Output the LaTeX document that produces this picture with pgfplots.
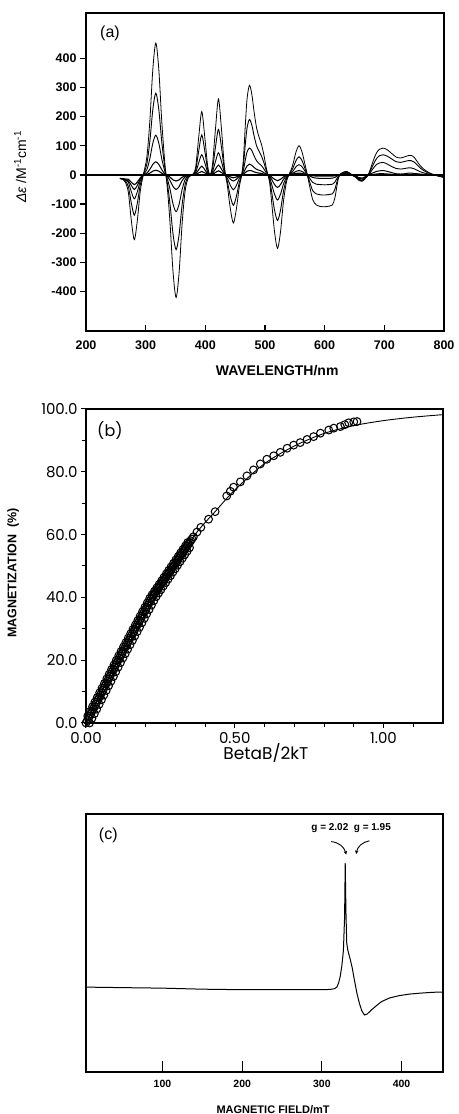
\documentclass[border=0pt]{standalone}
\usepackage{fontspec}
\setmainfont{Liberation Sans}
\newfontfamily\pop{Poppins}
\usepackage{pgfplots}
\usepackage{pgfplotstable}
\pgfplotsset{compat=1.18}
\usetikzlibrary{arrows.meta}

\pgfplotstableread{
lam A B C D E
257 -12 -12 -12 -12 -12
262 -16 -15 -15 -14 -13
266 -25 -20 -17 -16 -14
271 -60 -40 -25 -20 -15
276 -157 -97 -58 -36 -25
281 -222 -138 -82 -50 -33
286 -157 -97 -58 -36 -25
291 -55 -34 -20 -14 -10
296 0 0 0 0 0
302 61 38 18 6 2
307 185 115 56 19 6
312 362 224 109 36 13
317 452 280 136 45 16
322 362 224 109 36 13
327 183 113 55 18 6
332 44 27 13 4 1
337 -61 -38 -18 -7 -3
341 -170 -104 -51 -20 -8
346 -336 -205 -101 -40 -17
351 -420 -256 -126 -50 -21
356 -336 -205 -101 -40 -17
361 -170 -104 -51 -20 -8
366 -57 -35 -17 -7 -3
371 -12 -7 -4 -1 0
376 -2 -1 -1 0 0
380 4 2 1 0 0
384 29 18 9 4 2
389 131 83 42 18 7
394 217 137 69 30 12
399 131 83 42 18 7
404 29 18 9 4 2
408 0 0 0 0 0
412 35 21 10 5 2
417 158 95 46 20 8
422 260 156 76 34 14
427 158 95 46 20 8
432 28 17 8 4 2
437 -38 -24 -12 -5 -2
442 -117 -74 -36 -15 -7
447 -165 -104 -51 -21 -10
452 -117 -74 -36 -15 -7
457 -40 -25 -12 -5 -2
461 0 0 0 0 0
464 60 37 18 7 3
467 170 105 51 20 8
470 262 162 79 31 13
474 307 190 92 37 15
478 275 170 83 33 14
482 212 131 64 25 10
486 160 99 48 19 8
490 130 81 39 16 6
494 105 65 32 13 5
498 70 43 21 8 3
502 25 16 8 3 1
505 0 0 0 0 0
508 -30 -19 -10 -5 -2
511 -90 -56 -31 -15 -7
516 -195 -121 -66 -33 -15
521 -252 -156 -86 -43 -20
526 -195 -121 -66 -33 -15
531 -90 -56 -31 -15 -7
536 -24 -15 -8 -4 -2
540 0 0 0 0 0
543 14 9 5 2 1
547 38 24 13 6 3
552 79 49 28 12 5
557 100 62 35 15 6
562 79 49 28 12 5
567 36 22 13 5 2
571 0 0 0 0 0
575 -40 -25 -12 -4 -1
580 -85 -54 -26 -9 -3
586 -103 -65 -32 -11 -4
592 -108 -68 -33 -12 -4
600 -109 -69 -34 -12 -4
608 -107 -67 -33 -12 -4
613 -103 -65 -32 -11 -4
617 -80 -50 -25 -9 -3
620 -45 -28 -14 -5 -2
623 -12 -8 -4 -1 0
626 2 2 1 1 1
632 10 9 8 6 5
637 12 11 10 8 6
642 6 5 5 4 3
647 -2 -2 -2 -1 -1
652 -8 -7 -6 -5 -4
657 -18 -16 -14 -12 -9
663 -22 -20 -18 -14 -11
668 -12 -11 -10 -8 -6
673 0 0 0 0 0
677 22 16 10 4 1
682 52 38 24 8 2
687 76 56 36 12 3
692 88 66 41 14 4
698 92 69 43 15 4
705 86 64 37 12 3
712 74 55 29 8 2
720 61 45 22 4 1
727 58 43 20 3 1
734 62 46 22 4 1
740 66 49 24 6 2
745 67 49 24 6 2
750 60 44 21 5 2
755 46 34 16 4 1
760 32 24 11 3 1
766 20 15 7 2 1
772 11 8 4 1 0
780 3 2 1 0 0
788 -2 -2 -2 -2 -2
795 -6 -6 -6 -5 -4
800 -8 -8 -8 -7 -6
}\tabCD

\pgfplotstableread{
x y
0.000 0
0.004 0.74
0.008 1.48
0.012 2.22
0.016 2.96
0.020 3.70
0.024 4.44
0.028 5.19
0.032 5.93
0.036 6.67
0.040 7.41
0.044 8.15
0.048 8.89
0.052 9.63
0.056 10.37
0.060 11.11
0.064 11.85
0.068 12.59
0.072 13.33
0.076 14.08
0.080 14.82
0.084 15.56
0.088 16.30
0.092 17.04
0.096 17.78
0.100 18.52
0.104 19.26
0.108 20.0
0.112 20.70
0.116 21.40
0.120 22.10
0.124 22.81
0.128 23.51
0.132 24.21
0.136 24.91
0.140 25.61
0.144 26.31
0.148 27.02
0.152 27.72
0.156 28.42
0.160 29.12
0.164 29.82
0.168 30.52
0.172 31.23
0.176 31.93
0.180 32.63
0.184 33.33
0.188 34.03
0.192 34.74
0.196 35.44
0.200 36.14
0.204 36.84
0.208 37.54
0.212 38.25
0.216 38.95
0.220 39.65
0.224 40.28
0.228 40.83
0.232 41.39
0.236 41.94
0.240 42.50
0.244 43.05
0.248 43.61
0.252 44.16
0.256 44.72
0.260 45.27
0.264 45.83
0.268 46.38
0.272 46.94
0.276 47.50
0.280 48.05
0.284 48.61
0.288 49.16
0.292 49.72
0.296 50.27
0.300 50.83
0.304 51.38
0.308 51.94
0.312 52.49
0.316 53.05
0.320 53.60
0.324 54.16
0.328 54.72
0.332 55.27
0.336 55.83
0.340 56.38
0.344 56.94
0.348 57.49
0.352 58.05
0.356 58.60
0.012 0
0.020 1.48
0.028 2.96
0.036 4.44
0.044 5.93
0.052 7.41
0.060 8.89
0.068 10.37
0.076 11.85
0.084 13.33
0.092 14.82
0.100 16.30
0.108 17.78
0.116 19.26
0.124 20.70
0.132 22.10
0.140 23.51
0.148 24.91
0.156 26.31
0.164 27.72
0.172 29.12
0.180 30.52
0.188 31.93
0.196 33.33
0.204 34.74
0.212 36.14
0.220 37.54
0.228 38.95
0.236 40.28
0.244 41.39
0.252 42.50
0.260 43.61
0.268 44.72
0.276 45.83
0.284 46.94
0.292 48.05
0.300 49.16
0.308 50.27
0.316 51.38
0.324 52.49
0.332 53.60
0.340 54.72
0.348 55.83
0.006 2.22
0.014 3.70
0.022 5.19
0.030 6.67
0.038 8.15
0.046 9.63
0.054 11.11
0.062 12.59
0.070 14.08
0.078 15.56
0.086 17.04
0.094 18.52
0.102 20.0
0.110 21.40
0.118 22.81
0.126 24.21
0.134 25.61
0.142 27.02
0.150 28.42
0.158 29.82
0.166 31.23
0.174 32.63
0.182 34.03
0.190 35.44
0.198 36.84
0.206 38.25
0.214 39.65
0.222 40.83
0.230 41.94
0.238 43.05
0.246 44.16
0.254 45.27
0.262 46.38
0.270 47.50
0.278 48.61
0.286 49.72
0.294 50.83
0.302 51.94
0.310 53.05
0.318 54.16
0.326 55.27
0.334 56.38
0.342 57.49
0.361 59.3
0.373 60.8
0.386 62.3
0.412 64.9
0.434 67.3
0.473 72.3
0.485 73.8
0.496 75.1
0.519 76.8
0.541 78.7
0.563 80.6
0.586 82.5
0.608 84.0
0.631 85.1
0.653 86.2
0.676 87.5
0.698 88.5
0.720 89.3
0.743 90.3
0.765 91.2
0.788 92.3
0.816 93.3
0.833 93.9
0.855 94.4
0.870 95.0
0.883 95.6
0.900 95.9
0.911 96.0
}\tabMag

\pgfplotstableread{
x y
0 0
0.108 20
0.222 40
0.361 59.3
0.434 67.3
0.5 74.2
0.6 82.6
0.7 88.2
0.8 92.2
0.9 94.7
1.0 96.3
1.1 97.4
1.2 98.2
}\tabFit

\pgfplotstableread{
x y
4 32.9
50 32.7
100 32.5
150 32.1
200 31.9
250 31.9
300 31.9
310 32.0
316 32.3
319 33
321 34.5
323 37
325 41
327 47
328.5 60
329.3 81
330.2 62
331.2 50
332.5 47.3
334 45.5
335.8 43.4
338 40.5
340.8 35.7
344 30.5
347 26.7
350 23.8
353.4 22.1
357 22.5
362 24
368 25.6
375 27.3
385 28.7
397 29.6
410 30.2
425 30.6
440 30.9
452 31.0
}\tabEPR

\begin{document}
\begin{tikzpicture}
\useasboundingbox (0,0) rectangle (458pt,1114pt);

% ---------------- (a) ----------------
\begin{axis}[
  at={(86pt,783pt)}, anchor=south west,
  width=358pt, height=318pt, scale only axis,
  xmin=200, xmax=800, ymin=-535, ymax=555,
  axis line style={line width=1.3pt},
  xtick={200,300,400,500,600,700,800},
  xticklabels={200,300,400,500,600,700,800},
  ytick={-400,-300,-200,-100,0,100,200,300,400},
  yticklabels={-400,-300,-200,-100,0,100,200,300,400},
  xtick pos=bottom, ytick pos=left,
  xtick align=inside, ytick align=outside,
  major tick length=6pt,
  tick style={line width=1.2pt, black},
  ticklabel style={font=\bfseries\fontsize{12.5}{14}\selectfont},
  xticklabel style={yshift=-6pt},
  xlabel={WAVELENGTH/nm},
  xlabel style={at={(axis description cs:0.534,-0.123)}, anchor=center, font=\bfseries\fontsize{14}{16}\selectfont},
  ylabel={{\itshape Δε} /M\textsuperscript{-1}cm\textsuperscript{-1}},
  ylabel style={at={(axis description cs:-0.184,0.516)}, anchor=center, font=\fontsize{14}{15}\selectfont},
  clip=true,
]
\addplot[line width=1.5pt] coordinates {(200,0) (800,0)};
\addplot[line width=0.8pt, smooth] table[x=lam, y=A] {\tabCD};
\addplot[line width=0.9pt, smooth] table[x=lam, y=B] {\tabCD};
\addplot[line width=0.9pt, smooth] table[x=lam, y=C] {\tabCD};
\addplot[line width=1.0pt, smooth] table[x=lam, y=D] {\tabCD};
\addplot[line width=1.1pt, smooth] table[x=lam, y=E] {\tabCD};
\node[font=\fontsize{16}{17}\selectfont] at (rel axis cs:0.067,0.936) {(a)};
\end{axis}

% ---------------- (b) ----------------
\begin{axis}[
  at={(86pt,391pt)}, anchor=south west,
  width=357pt, height=314pt, scale only axis,
  xmin=0, xmax=1.2, ymin=0, ymax=100,
  axis line style={line width=1.1pt},
  xtick={0,0.5,1.0}, xticklabels={0.00,0.50,1.00},
  minor xtick={0.1,0.2,0.3,0.4,0.6,0.7,0.8,0.9,1.1},
  ytick={0,20,40,60,80,100}, yticklabels={0.0,20.0,40.0,60.0,80.0,100.0},
  minor ytick={10,30,50,70,90},
  xtick pos=bottom, ytick pos=left, tick align=outside,
  major tick length=5pt, minor tick length=4pt,
  tick style={line width=1pt, black},
  ticklabel style={font=\pop\fontsize{15}{16}\selectfont},
  xticklabel style={yshift=-1pt},
  xlabel={BetaB/2kT},
  xlabel style={at={(axis description cs:0.504,-0.0955)}, anchor=center, font=\pop\fontsize{17}{18}\selectfont},
  ylabel={MAGNETIZATION\ \ (\%)},
  ylabel style={at={(axis description cs:-0.204,0.478)}, anchor=center, font=\bfseries\fontsize{12.5}{13}\selectfont},
  clip=false,
]
\addplot[line width=0.9pt, smooth] table[x=x, y=y] {\tabFit};
\addplot[only marks, mark=o, mark size=3.9pt, mark options={line width=1.05pt}] table[x=x, y=y] {\tabMag};
\node[font=\pop\fontsize{16}{17}\selectfont] at (rel axis cs:0.067,0.933) {(b)};
\end{axis}

% ---------------- (c) ----------------
\begin{axis}[
  at={(86pt,42pt)}, anchor=south west,
  width=357pt, height=258pt, scale only axis,
  xmin=4, xmax=452, ymin=0, ymax=100,
  axis line style={line width=1.3pt},
  xtick={100,200,300,400},
  xticklabels={100,200,300,400},
  ytick=\empty,
  xtick pos=bottom, xtick align=inside,
  major tick length=11pt,
  tick style={line width=1.2pt, black},
  ticklabel style={font=\bfseries\fontsize{10.5}{11}\selectfont},
  xticklabel style={yshift=-5pt},
  xlabel={MAGNETIC FIELD/mT},
  xlabel style={at={(axis description cs:0.524,-0.147)}, anchor=center, font=\bfseries\fontsize{11}{12}\selectfont},
  clip=false,
]
\addplot[line width=1pt] table[x=x, y=y] {\tabEPR};
\node[font=\fontsize{16}{17}\selectfont] at (rel axis cs:0.0625,0.918) {(c)};
\node[font=\bfseries\fontsize{10}{11}\selectfont] at (axis cs:336.7,94.6) {g = 2.02\ \ g = 1.95};
\draw[line width=0.9pt, -{Stealth[length=3.5pt,width=3.5pt]}] (axis cs:311.7,89.3) to[bend left=35] (axis cs:330.5,84.3);
\draw[line width=0.9pt, -{Stealth[length=3.5pt,width=3.5pt]}] (axis cs:359.6,89.6) to[bend right=35] (axis cs:343,84.5);
\end{axis}
\end{tikzpicture}
\end{document}
